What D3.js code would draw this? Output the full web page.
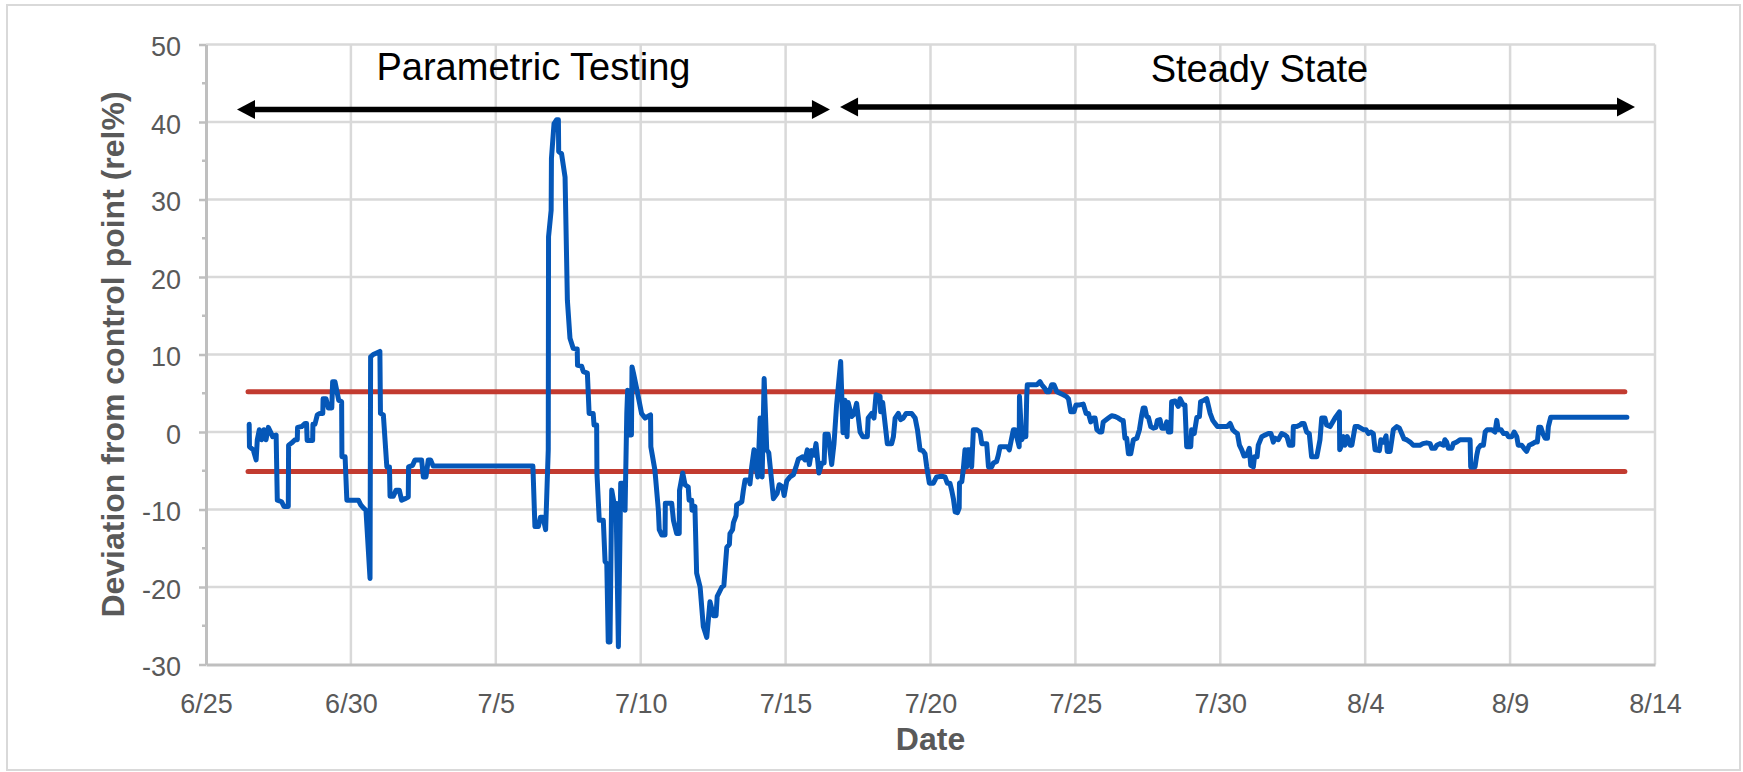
<!DOCTYPE html>
<html>
<head>
<meta charset="utf-8">
<script src="https://cdn.jsdelivr.net/npm/d3@7"></script>
<style>
  html, body { margin: 0; padding: 0; background: #fff; }
  svg { display: block; font-family: "Liberation Sans", Arial, Helvetica, sans-serif; }
</style>
</head>
<body>
<svg id="chart" width="1743" height="772"></svg>
<script>
// ---- data -------------------------------------------------------------
// Date axis: one label every five days, counted in days from 6/25
const dateLabels = ["6/25", "6/30", "7/5", "7/10", "7/15", "7/20", "7/25", "7/30", "8/4", "8/9", "8/14"];
const labelStepDays = 5;

// Value axis ticks (rel%)
const valueTicks = [-30, -20, -10, 0, 10, 20, 30, 40, 50];
const valueMinorTicks = [-25, -15, -5, 5, 15, 25, 35, 45];

// Control limits (rel%) and the period they cover (days from 6/25)
const controlLimits = [5.2, -5.1];
const controlSpan = [1.45, 48.96];

// Test phases shown above the trace
const phaseNames = ["Parametric Testing", "Steady State"];
const phaseStart = [1.07, 21.88];
const phaseEnd = [21.53, 49.31];
const phaseArrowLevel = [41.6, 41.95];
const phaseLabelDay = [11.3, 36.35];
const phaseLabelLevel = [45.4, 45.2];

// Deviation from control point: [days from 6/25, rel%]
const deviationReadings = [
  [1.49, 1.0], [1.50, -1.9], [1.63, -2.3], [1.73, -3.6], [1.77, -1.0], [1.84, 0.3], [1.92, -1.0], [2.00, 0.3],
  [2.07, -1.0], [2.15, 0.6], [2.23, 0.0], [2.30, -0.6], [2.42, -0.4], [2.46, -8.8], [2.61, -9.0], [2.69, -9.6],
  [2.84, -9.6], [2.85, -1.7], [2.96, -1.4], [3.07, -1.0], [3.15, -1.0], [3.16, 0.6], [3.30, 0.7], [3.42, 1.1],
  [3.47, 1.1], [3.49, -1.1], [3.68, -1.1], [3.69, 1.0], [3.76, 1.0], [3.84, 2.2], [3.93, 2.4], [4.03, 2.4],
  [4.04, 4.3], [4.14, 4.3], [4.22, 3.1], [4.34, 3.1], [4.37, 6.5], [4.45, 6.5], [4.51, 5.4], [4.58, 4.1],
  [4.68, 3.9], [4.69, -3.2], [4.80, -3.2], [4.86, -8.8], [5.26, -8.8], [5.34, -9.4], [5.43, -9.8], [5.52, -10.1],
  [5.66, -18.9], [5.68, 9.7], [5.77, 10.0], [5.83, 10.1], [6.00, 10.4], [6.02, 2.4], [6.12, 2.2], [6.24, -4.5],
  [6.33, -4.5], [6.35, -8.3], [6.46, -8.3], [6.56, -7.5], [6.67, -7.5], [6.75, -8.8], [6.87, -8.6], [6.98, -8.4],
  [6.99, -4.5], [7.13, -4.3], [7.21, -3.6], [7.44, -3.6], [7.50, -5.8], [7.59, -5.8], [7.67, -3.6], [7.75, -3.6],
  [7.84, -4.4], [11.28, -4.4], [11.35, -12.2], [11.47, -12.2], [11.54, -11.0], [11.63, -11.0], [11.72, -12.6], [11.81, -2.3],
  [11.82, 25.2], [11.91, 28.6], [11.92, 35.3], [12.01, 39.8], [12.10, 40.3], [12.16, 40.3], [12.17, 36.2], [12.27, 35.9],
  [12.39, 32.9], [12.47, 17.0], [12.56, 12.1], [12.67, 10.8], [12.81, 10.7], [12.82, 8.6], [12.96, 8.5], [13.02, 7.8],
  [13.16, 7.6], [13.22, 2.4], [13.36, 2.4], [13.39, 0.9], [13.48, 0.9], [13.49, -5.3], [13.57, -11.4], [13.71, -11.4],
  [13.77, -16.7], [13.83, -17.0], [13.88, -27.1], [13.94, -27.1], [14.00, -7.5], [14.08, -9.2], [14.15, -9.2], [14.23, -27.7],
  [14.31, -6.6], [14.38, -6.6], [14.46, -10.1], [14.52, 2.4], [14.55, 5.4], [14.63, -0.4], [14.68, -0.4], [14.70, 8.4],
  [14.75, 7.6], [14.86, 5.6], [14.94, 4.1], [15.03, 2.4], [15.15, 1.8], [15.34, 2.2], [15.35, -1.9], [15.49, -4.9],
  [15.61, -10.1], [15.64, -12.6], [15.73, -13.3], [15.84, -13.3], [15.85, -9.2], [16.07, -9.2], [16.13, -11.4], [16.24, -13.1],
  [16.33, -13.1], [16.34, -7.5], [16.45, -5.3], [16.53, -6.8], [16.64, -7.1], [16.67, -8.8], [16.76, -8.8], [16.77, -10.1],
  [16.87, -9.6], [16.93, -18.2], [17.05, -20.0], [17.16, -25.1], [17.28, -26.5], [17.39, -21.9], [17.51, -23.7], [17.60, -23.7],
  [17.64, -21.2], [17.80, -20.0], [17.87, -19.8], [17.97, -14.9], [18.06, -14.5], [18.08, -13.1], [18.17, -12.6], [18.20, -11.7],
  [18.29, -10.8], [18.31, -9.4], [18.49, -9.0], [18.54, -7.6], [18.60, -6.2], [18.75, -6.2], [18.77, -6.7], [18.83, -4.5],
  [18.91, -2.3], [18.98, -4.5], [19.04, -5.8], [19.12, 1.8], [19.19, -5.8], [19.26, 6.9], [19.35, -2.3], [19.42, -2.7],
  [19.49, -5.3], [19.58, -8.6], [19.71, -7.9], [19.78, -6.8], [19.90, -7.1], [19.95, -8.2], [20.04, -6.3], [20.15, -5.8],
  [20.27, -5.5], [20.36, -4.5], [20.44, -3.5], [20.59, -3.2], [20.67, -3.6], [20.75, -2.3], [20.82, -4.2], [20.90, -2.4],
  [20.98, -3.0], [21.05, -1.5], [21.15, -5.3], [21.25, -4.0], [21.33, -4.0], [21.36, -0.3], [21.47, -0.3], [21.59, -4.2],
  [21.67, -1.5], [21.76, 3.5], [21.90, 9.1], [21.98, -0.1], [22.05, 4.1], [22.12, -0.6], [22.16, 3.8], [22.28, 2.0],
  [22.36, 2.3], [22.45, 3.7], [22.57, 0.0], [22.66, -0.6], [22.82, -0.6], [22.85, 1.8], [22.97, 2.4], [23.05, 1.8],
  [23.12, 4.8], [23.26, 4.6], [23.28, 2.6], [23.35, 3.8], [23.51, -1.5], [23.66, -1.5], [23.72, -0.6], [23.78, 1.8],
  [23.89, 2.4], [23.97, 1.6], [24.06, 1.8], [24.16, 2.4], [24.35, 2.4], [24.47, 1.8], [24.55, 0.3], [24.64, -2.3],
  [24.73, -2.4], [24.81, -2.8], [24.87, -4.5], [24.96, -6.6], [25.10, -6.6], [25.21, -5.8], [25.39, -5.7], [25.50, -5.8],
  [25.58, -6.6], [25.67, -6.6], [25.73, -7.5], [25.79, -8.6], [25.85, -10.3], [25.93, -10.4], [25.99, -9.8], [26.00, -6.6],
  [26.08, -6.4], [26.13, -4.9], [26.19, -2.3], [26.25, -4.5], [26.28, -2.3], [26.36, -2.3], [26.42, -4.5], [26.48, 0.3],
  [26.59, 0.3], [26.71, 0.0], [26.77, -1.5], [26.94, -1.5], [27.00, -4.5], [27.11, -4.5], [27.17, -4.0], [27.28, -3.8],
  [27.34, -3.0], [27.40, -1.9], [27.65, -1.9], [27.72, -2.3], [27.80, -0.8], [27.86, 0.3], [27.92, 0.3], [28.00, -1.0],
  [28.06, -1.9], [28.07, 4.6], [28.15, -1.0], [28.20, -0.6], [28.29, -0.6], [28.32, 4.6], [28.34, 6.1], [28.67, 6.1],
  [28.78, 6.5], [28.84, 6.1], [28.95, 5.6], [29.01, 5.2], [29.10, 5.2], [29.18, 6.1], [29.26, 6.1], [29.36, 5.2],
  [29.47, 5.0], [29.58, 4.8], [29.68, 4.6], [29.76, 4.3], [29.84, 2.6], [29.95, 2.6], [30.02, 3.5], [30.14, 3.5],
  [30.27, 3.6], [30.37, 2.4], [30.45, 2.4], [30.53, 1.3], [30.62, 1.8], [30.68, 1.8], [30.74, 0.3], [30.83, 0.0],
  [30.91, 0.0], [30.96, 1.3], [31.14, 1.8], [31.25, 2.1], [31.37, 2.0], [31.48, 1.8], [31.60, 1.5], [31.65, 1.5],
  [31.71, -0.8], [31.77, -0.8], [31.83, -2.8], [31.91, -2.8], [32.00, -1.0], [32.12, -0.8], [32.21, 0.3], [32.29, 2.2],
  [32.34, 3.1], [32.40, 3.1], [32.46, 2.0], [32.52, 1.9], [32.60, 0.7], [32.69, 0.5], [32.78, 0.6], [32.83, 1.5],
  [32.92, 1.6], [32.98, 0.5], [33.09, 0.5], [33.15, 1.3], [33.21, 0.0], [33.29, 0.0], [33.32, 3.9], [33.44, 4.0],
  [33.55, 3.3], [33.61, 4.3], [33.72, 3.5], [33.78, 3.5], [33.84, -1.9], [33.98, -1.9], [34.01, 0.3], [34.10, -0.2],
  [34.19, 1.9], [34.28, 2.0], [34.32, 3.9], [34.44, 4.1], [34.53, 4.3], [34.65, 2.4], [34.74, 1.5], [34.82, 1.1],
  [34.90, 0.7], [35.24, 0.7], [35.34, 1.1], [35.43, 0.3], [35.51, 0.0], [35.59, -0.2], [35.66, -1.7], [35.74, -2.3],
  [35.82, -3.1], [35.91, -3.0], [36.00, -2.1], [36.05, -4.3], [36.14, -4.5], [36.18, -3.2], [36.27, -3.2], [36.31, -1.7],
  [36.43, -0.6], [36.54, -0.4], [36.66, -0.2], [36.75, -0.2], [36.83, -1.3], [36.89, -0.8], [37.00, -1.0], [37.12, -0.2],
  [37.23, -0.4], [37.30, -0.6], [37.38, -1.7], [37.50, -1.7], [37.52, 0.7], [37.64, 0.7], [37.75, 0.9], [37.81, 1.1],
  [37.89, 1.1], [37.98, 0.0], [38.07, -0.2], [38.15, -3.2], [38.33, -3.2], [38.44, -1.0], [38.50, 1.8], [38.61, 1.8],
  [38.67, 0.9], [38.79, 0.7], [38.96, 1.8], [39.11, 2.6], [39.12, -2.3], [39.19, -1.7], [39.25, -0.6], [39.30, -1.7],
  [39.38, -0.6], [39.48, -1.7], [39.54, -1.7], [39.65, 0.7], [39.76, 0.7], [39.85, 0.5], [39.94, 0.3], [40.03, 0.3],
  [40.11, -0.2], [40.19, 0.0], [40.28, -0.2], [40.34, -2.3], [40.49, -2.4], [40.54, -1.0], [40.63, -1.3], [40.72, -0.5],
  [40.76, -2.5], [40.86, -2.5], [40.92, -1.0], [40.97, 0.3], [41.09, 0.7], [41.18, 0.5], [41.26, -0.2], [41.34, -0.9],
  [41.43, -1.0], [41.55, -1.3], [41.66, -1.7], [41.89, -1.7], [41.99, -1.5], [42.12, -1.4], [42.24, -1.5], [42.30, -2.1],
  [42.41, -2.1], [42.47, -1.7], [42.58, -1.5], [42.70, -1.7], [42.75, -1.0], [42.81, -1.3], [42.87, -2.1], [42.99, -2.1],
  [43.04, -1.5], [43.16, -1.3], [43.27, -1.0], [43.62, -1.0], [43.64, -4.5], [43.79, -4.5], [43.85, -3.0], [43.90, -2.1],
  [43.99, -1.7], [44.08, -1.7], [44.14, 0.0], [44.21, 0.3], [44.37, 0.3], [44.48, 0.0], [44.54, 1.5], [44.59, 0.3],
  [44.69, 0.3], [44.77, -0.2], [44.88, -0.2], [44.94, -0.6], [45.06, -0.6], [45.14, 0.0], [45.23, -0.6], [45.28, -1.7],
  [45.40, -1.7], [45.48, -2.1], [45.57, -2.5], [45.66, -1.7], [45.78, -1.5], [45.86, -1.3], [45.94, -1.3], [45.99, 0.6],
  [46.06, 0.6], [46.13, -0.2], [46.21, -0.8], [46.29, -0.8], [46.32, 0.7], [46.40, 1.9], [49.03, 1.9]
];

// ---- layout -------------------------------------------------------------
const svg = d3.select("#chart");
const W = 1743, H = 772;
const plot = { left: 206, right: 1655, top: 44.5, bottom: 664.5 };

const x = d3.scaleLinear()
  .domain([0, (dateLabels.length - 1) * labelStepDays])
  .range([plot.left, plot.right]);
const y = d3.scaleLinear()
  .domain([d3.min(valueTicks), d3.max(valueTicks)])
  .range([plot.bottom, plot.top]);

const dateTickDays = dateLabels.map((_, i) => i * labelStepDays);

const gridColor = "#d9d9d9";
const axisColor = "#bfbfbf";
const labelColor = "#595959";

// outer frame
svg.append("rect")
  .attr("x", 7).attr("y", 5)
  .attr("width", W - 10).attr("height", H - 7)
  .attr("fill", "#fff")
  .attr("stroke", gridColor)
  .attr("stroke-width", 2);

// gridlines
const grid = svg.append("g");
grid.selectAll("line.h")
  .data(valueTicks.filter(v => v !== y.domain()[0]))
  .join("line")
  .attr("x1", x.range()[0]).attr("x2", x.range()[1])
  .attr("y1", d => y(d)).attr("y2", d => y(d))
  .attr("stroke", gridColor).attr("stroke-width", 2.5);
grid.selectAll("line.v")
  .data(dateTickDays.slice(1))
  .join("line")
  .attr("x1", d => x(d)).attr("x2", d => x(d))
  .attr("y1", y.range()[0]).attr("y2", y.range()[1])
  .attr("stroke", gridColor).attr("stroke-width", 2.5);

// value axis (plain hyphen for negatives)
const yAxis = svg.append("g")
  .attr("transform", `translate(${plot.left},0)`)
  .call(d3.axisLeft(y)
    .tickValues(valueTicks)
    .tickFormat(d => String(d))
    .tickSize(7).tickSizeOuter(0).tickPadding(18));
yAxis.select(".domain").attr("stroke", axisColor).attr("stroke-width", 3);
yAxis.selectAll(".tick line").attr("stroke", axisColor).attr("stroke-width", 2.5);
yAxis.selectAll(".tick text")
  .attr("fill", labelColor)
  .attr("font-size", 27)
  .attr("font-family", "'Liberation Sans', Arial, sans-serif")
  .attr("dy", "0.42em");
yAxis.selectAll("line.minor")
  .data(valueMinorTicks)
  .join("line")
  .attr("class", "minor")
  .attr("x1", -4).attr("x2", 0)
  .attr("y1", d => y(d)).attr("y2", d => y(d))
  .attr("stroke", axisColor).attr("stroke-width", 2.5);

// date axis
const xAxis = svg.append("g")
  .attr("transform", `translate(0,${plot.bottom})`)
  .call(d3.axisBottom(x)
    .tickValues(dateTickDays)
    .tickFormat((d, i) => dateLabels[i])
    .tickSize(0).tickSizeOuter(0).tickPadding(29));
xAxis.select(".domain").attr("stroke", axisColor).attr("stroke-width", 3);
xAxis.selectAll(".tick text")
  .attr("fill", labelColor)
  .attr("font-size", 27)
  .attr("font-family", "'Liberation Sans', Arial, sans-serif");

// control limits
svg.append("g").selectAll("line")
  .data(controlLimits)
  .join("line")
  .attr("x1", x(controlSpan[0])).attr("x2", x(controlSpan[1]))
  .attr("y1", d => y(d)).attr("y2", d => y(d))
  .attr("stroke", "#c23b30")
  .attr("stroke-width", 5)
  .attr("stroke-linecap", "round");

// deviation trace
const line = d3.line()
  .x(d => x(d[0]))
  .y(d => y(d[1]));
svg.append("path")
  .datum(deviationReadings)
  .attr("d", line)
  .attr("fill", "none")
  .attr("stroke", "#0557b8")
  .attr("stroke-width", 5)
  .attr("stroke-linejoin", "round")
  .attr("stroke-linecap", "round");

// phase arrows and labels
const headLen = 18, headHalf = 9.5;
const phases = svg.append("g");
phaseNames.forEach((name, i) => {
  const x0 = x(phaseStart[i]), x1 = x(phaseEnd[i]), ya = y(phaseArrowLevel[i]);
  phases.append("line")
    .attr("x1", x0 + headLen - 2).attr("x2", x1 - headLen + 2)
    .attr("y1", ya).attr("y2", ya)
    .attr("stroke", "#000").attr("stroke-width", 5.5);
  phases.append("path")
    .attr("d", `M${x0},${ya}L${x0 + headLen},${ya - headHalf}L${x0 + headLen},${ya + headHalf}Z`)
    .attr("fill", "#000");
  phases.append("path")
    .attr("d", `M${x1},${ya}L${x1 - headLen},${ya - headHalf}L${x1 - headLen},${ya + headHalf}Z`)
    .attr("fill", "#000");
  phases.append("text")
    .attr("x", x(phaseLabelDay[i]))
    .attr("y", y(phaseLabelLevel[i]))
    .attr("text-anchor", "middle")
    .attr("font-size", 38)
    .attr("fill", "#000")
    .text(name);
});

// axis titles
svg.append("text")
  .attr("x", (plot.left + plot.right) / 2)
  .attr("y", 750)
  .attr("text-anchor", "middle")
  .attr("font-size", 32)
  .attr("font-weight", "bold")
  .attr("fill", labelColor)
  .text("Date");

svg.append("text")
  .attr("transform", `translate(124,${(plot.top + plot.bottom) / 2}) rotate(-90)`)
  .attr("text-anchor", "middle")
  .attr("font-size", 32)
  .attr("font-weight", "bold")
  .attr("fill", labelColor)
  .text("Deviation from control point (rel%)");
</script>
</body>
</html>
